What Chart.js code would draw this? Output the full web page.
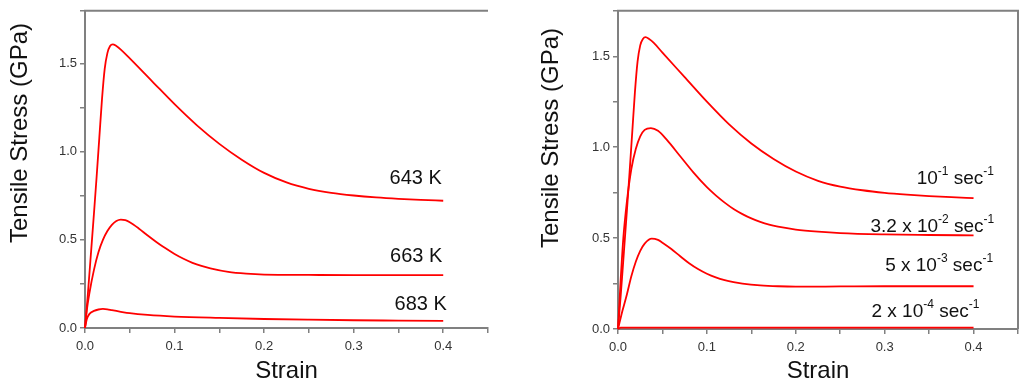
<!DOCTYPE html>
<html>
<head>
<meta charset="utf-8">
<script src="https://cdn.jsdelivr.net/npm/chart.js@4/dist/chart.umd.min.js"></script>
<style>
  html, body { margin: 0; padding: 0; background: #fff; }
  #tempBox { position: absolute; left: 0; top: 0; }
  #rateBox { position: absolute; left: 512px; top: 0; }
</style>
</head>
<body>
<div id="tempBox"><canvas id="tempChart" width="500" height="388"></canvas></div>
<div id="rateBox"><canvas id="rateChart" width="512" height="388"></canvas></div>
<script>
// left panel - test temperature
const strain643 = [0, 0.003, 0.006, 0.01, 0.013, 0.016, 0.019, 0.022, 0.025, 0.028, 0.031, 0.035, 0.04, 0.05, 0.075, 0.1, 0.125, 0.15, 0.175, 0.2, 0.225, 0.25, 0.275, 0.3, 0.325, 0.35, 0.375, 0.4];
const stress643 = [0, 0.18, 0.38, 0.65, 0.86, 1.08, 1.3, 1.47, 1.56, 1.6, 1.61, 1.6, 1.58, 1.53, 1.4, 1.27, 1.15, 1.045, 0.955, 0.88, 0.826, 0.79, 0.767, 0.752, 0.741, 0.733, 0.727, 0.722];

const strain663 = [0, 0.002, 0.005, 0.01, 0.015, 0.02, 0.025, 0.03, 0.035, 0.04, 0.045, 0.05, 0.06, 0.07, 0.08, 0.09, 0.1, 0.11, 0.12, 0.13, 0.14, 0.16, 0.18, 0.2, 0.25, 0.3, 0.35, 0.4];
const stress663 = [0, 0.1, 0.2, 0.33, 0.43, 0.5, 0.55, 0.585, 0.607, 0.615, 0.612, 0.6, 0.565, 0.525, 0.487, 0.452, 0.42, 0.393, 0.37, 0.352, 0.338, 0.318, 0.308, 0.303, 0.301, 0.3, 0.3, 0.3];

const strain683 = [0, 0.002, 0.005, 0.01, 0.015, 0.02, 0.025, 0.03, 0.04, 0.05, 0.07, 0.1, 0.15, 0.2, 0.25, 0.3, 0.35, 0.4];
const stress683 = [0, 0.05, 0.08, 0.097, 0.105, 0.108, 0.106, 0.101, 0.092, 0.084, 0.074, 0.065, 0.057, 0.051, 0.047, 0.044, 0.042, 0.04];

// right panel - strain rate
const strainR1 = [0, 0.003, 0.006, 0.01, 0.013, 0.016, 0.019, 0.022, 0.025, 0.028, 0.031, 0.035, 0.04, 0.05, 0.075, 0.1, 0.125, 0.15, 0.175, 0.2, 0.225, 0.25, 0.275, 0.3, 0.325, 0.35, 0.375, 0.4];
const stressR1 = [0, 0.18, 0.38, 0.65, 0.86, 1.08, 1.3, 1.47, 1.56, 1.595, 1.605, 1.595, 1.575, 1.52, 1.385, 1.25, 1.125, 1.02, 0.935, 0.866, 0.815, 0.783, 0.763, 0.749, 0.739, 0.731, 0.725, 0.72];

const strainR2 = [0, 0.003, 0.006, 0.01, 0.015, 0.02, 0.025, 0.03, 0.037, 0.045, 0.055, 0.07, 0.085, 0.1, 0.11, 0.12, 0.13, 0.14, 0.15, 0.16, 0.17, 0.18, 0.2, 0.225, 0.25, 0.3, 0.35, 0.4];
const stressR2 = [0, 0.27, 0.5, 0.7, 0.88, 0.99, 1.06, 1.095, 1.105, 1.09, 1.04, 0.95, 0.86, 0.78, 0.735, 0.695, 0.66, 0.632, 0.608, 0.589, 0.574, 0.563, 0.547, 0.535, 0.527, 0.52, 0.517, 0.515];

const strainR3 = [0, 0.005, 0.01, 0.015, 0.02, 0.025, 0.03, 0.038, 0.045, 0.05, 0.06, 0.07, 0.08, 0.09, 0.1, 0.11, 0.12, 0.13, 0.14, 0.16, 0.18, 0.2, 0.25, 0.3, 0.35, 0.4];
const stressR3 = [0, 0.1, 0.19, 0.29, 0.37, 0.43, 0.47, 0.497, 0.49, 0.475, 0.44, 0.4, 0.362, 0.33, 0.304, 0.284, 0.269, 0.258, 0.25, 0.24, 0.235, 0.233, 0.234, 0.235, 0.235, 0.235];

const strainR4 = [0, 0.003, 0.4];
const stressR4 = [0, 0.008, 0.008];

const FONT = '"Liberation Sans", Arial, sans-serif';
const RED = 'rgb(255, 0, 0)';
const AXIS = '#808080';

function toPoints(xs, ys) {
    return xs.map((x, i) => ({ x: x, y: ys[i] }));
}

function series(xs, ys) {
    return {
        data: toPoints(xs, ys),
        showLine: true,
        borderColor: RED,
        borderWidth: 1.8,
        pointRadius: 0,
        cubicInterpolationMode: 'monotone',
        clip: false
    };
}

// curve labels, y-axis title and the top/right frame lines
const decorations = {
    id: 'decorations',
    afterDraw(chart, args, opts) {
        const ctx = chart.ctx;
        const area = chart.chartArea;
        const xs = chart.scales.x, ys = chart.scales.y;
        ctx.save();
        ctx.strokeStyle = AXIS;
        ctx.lineWidth = 2;
        ctx.beginPath();
        ctx.moveTo(area.left - 1, area.top);
        ctx.lineTo(area.right, area.top);
        if (opts.rightFrame) {
            ctx.lineTo(area.right, area.bottom);
        }
        ctx.stroke();

        ctx.fillStyle = '#111';
        ctx.textBaseline = 'middle';
        opts.labels.forEach(lab => {
            let w = 0;
            lab.parts.forEach(p => {
                ctx.font = (p[1] ? opts.supSize : opts.size) + 'px ' + FONT;
                w += ctx.measureText(p[0]).width;
            });
            let px = xs.getPixelForValue(lab.x) - w;
            const py = ys.getPixelForValue(lab.y);
            lab.parts.forEach(p => {
                ctx.font = (p[1] ? opts.supSize : opts.size) + 'px ' + FONT;
                ctx.textAlign = 'left';
                ctx.fillText(p[0], px, p[1] ? py - 7 : py);
                px += ctx.measureText(p[0]).width;
            });
        });

        ctx.translate(opts.titleX, opts.titleY);
        ctx.rotate(-Math.PI / 2);
        ctx.font = '24px ' + FONT;
        ctx.textAlign = 'center';
        ctx.fillText('Tensile Stress (GPa)', 0, 0);
        ctx.restore();
    }
};

function makeChart(id, datasets, cfg) {
    new Chart(document.getElementById(id), {
        type: 'scatter',
        data: { datasets: datasets },
        plugins: [decorations],
        options: {
            responsive: false,
            animation: false,
            layout: { padding: cfg.padding },
            plugins: {
                legend: { display: false },
                tooltip: { enabled: false },
                decorations: cfg.deco
            },
            scales: {
                x: {
                    type: 'linear',
                    min: 0,
                    max: 0.45,
                    afterFit: s => { s.height = 388 - cfg.bottom; },
                    border: { display: true, color: AXIS, width: 2 },
                    grid: { drawOnChartArea: false, drawTicks: true, tickLength: 5, color: AXIS, lineWidth: 1.5 },
                    ticks: {
                        stepSize: 0.05,
                        autoSkip: false,
                        maxRotation: 0,
                        padding: 6,
                        color: '#333',
                        font: { family: FONT, size: 13 },
                        callback: v => Math.abs(v * 10 - Math.round(v * 10)) < 1e-6 ? v.toFixed(1) : ''
                    },
                    title: {
                        display: true,
                        text: 'Strain',
                        color: '#111',
                        font: { family: FONT, size: 24 },
                        padding: { top: 0, bottom: 2 }
                    }
                },
                y: {
                    type: 'linear',
                    min: 0,
                    max: cfg.yMax,
                    afterFit: s => { s.width = cfg.yWidth; },
                    border: { display: true, color: AXIS, width: 2 },
                    grid: { drawOnChartArea: false, drawTicks: true, tickLength: 5, color: AXIS, lineWidth: 1.5 },
                    ticks: {
                        stepSize: 0.25,
                        autoSkip: false,
                        padding: 3,
                        color: '#333',
                        font: { family: FONT, size: 13 },
                        callback: v => Math.abs(v * 2 - Math.round(v * 2)) < 1e-6 ? v.toFixed(1) : ''
                    }
                }
            }
        }
    });
}

makeChart('tempChart', [
    series(strain643, stress643),
    series(strain663, stress663),
    series(strain683, stress683)
], {
    padding: { top: 5, right: 12, left: 0, bottom: 0 },
    bottom: 328,
    yMax: 1.8,
    yWidth: 85,
    deco: {
        rightFrame: false,
        size: 20,
        supSize: 12,
        titleX: 20,
        titleY: 133,
        labels: [
            { parts: [['643 K', false]], x: 0.3985, y: 0.847 },
            { parts: [['663 K', false]], x: 0.399, y: 0.407 },
            { parts: [['683 K', false]], x: 0.404, y: 0.134 }
        ]
    }
});

makeChart('rateChart', [
    series(strainR1, stressR1),
    series(strainR2, stressR2),
    series(strainR3, stressR3),
    series(strainR4, stressR4)
], {
    padding: { top: 7, right: 4, left: 0, bottom: 0 },
    bottom: 329,
    yMax: 1.75,
    yWidth: 106,
    deco: {
        rightFrame: true,
        size: 19,
        supSize: 12,
        titleX: 39,
        titleY: 138,
        labels: [
            { parts: [['10', false], ['-1', true], [' sec', false], ['-1', true]], x: 0.423, y: 0.828 },
            { parts: [['3.2 x 10', false], ['-2', true], [' sec', false], ['-1', true]], x: 0.4233, y: 0.565 },
            { parts: [['5 x 10', false], ['-3', true], [' sec', false], ['-1', true]], x: 0.422, y: 0.348 },
            { parts: [['2 x 10', false], ['-4', true], [' sec', false], ['-1', true]], x: 0.4066, y: 0.094 }
        ]
    }
});
</script>
</body>
</html>
